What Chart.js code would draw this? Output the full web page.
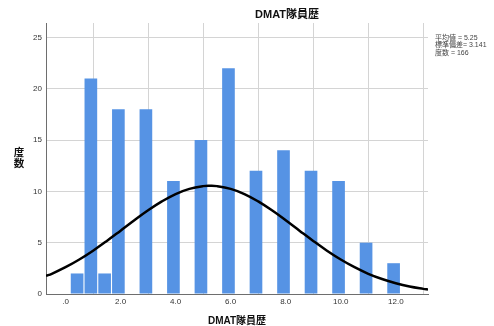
<!DOCTYPE html>
<html>
<head>
<meta charset="utf-8">
<script src="https://cdn.jsdelivr.net/npm/chart.js@4/dist/chart.umd.min.js"></script>
<style>
  html, body { margin: 0; padding: 0; background: #ffffff; }
  #wrap { width: 494px; height: 326px; }
</style>
</head>
<body>
<div id="wrap"><canvas id="c" width="494" height="326"></canvas></div>
<script>
// ---- data ----
const chartTitle = 'DMAT隊員歴';
const xAxisTitle = 'DMAT隊員歴';
const yAxisTitleChars = ['度', '数'];
const statLines = ['平均値 = 5.25', '標準偏差= 3.141', '度数 = 166'];

// histogram bins (midpoints as drawn) and counts
const binMidpoints = [0.42, 0.92, 1.42, 1.92, 2.92, 3.92, 4.92, 5.92, 6.92, 7.92, 8.92, 9.92, 10.92, 11.92];
const counts       = [2, 21, 2, 18, 18, 11, 15, 22, 12, 14, 12, 11, 5, 3];

// fitted normal curve, values read along the x axis
const curveX = [-0.71, -0.5, 0, 0.5, 1, 1.5, 2, 2.5, 3, 3.5, 4, 4.5, 5, 5.25, 5.5, 6, 6.5, 7, 7.5, 8, 8.5, 9, 9.5, 10, 10.5, 11, 11.5, 12, 12.5, 13, 13.17];
const curveY = [1.77, 1.97, 2.61, 3.36, 4.22, 5.17, 6.17, 7.18, 8.15, 9.02, 9.74, 10.24, 10.51, 10.54, 10.51, 10.24, 9.74, 9.02, 8.15, 7.18, 6.17, 5.17, 4.22, 3.36, 2.61, 1.97, 1.46, 1.05, 0.73, 0.50, 0.44];

// tick values and labels
const xTickValues = [0, 2, 4, 6, 8, 10, 12];
const xTickLabels = ['.0', '2.0', '4.0', '6.0', '8.0', '10.0', '12.0'];
const yTickValues = [0, 5, 10, 15, 20, 25];

const FONT = '"Liberation Sans", Arial, "Noto Sans CJK JP", sans-serif';

const textPlugin = {
  id: 'textPlugin',
  afterDraw(chart) {
    const ctx = chart.ctx;
    ctx.save();
    ctx.fillStyle = '#111';
    ctx.textBaseline = 'middle';
    ctx.textAlign = 'center';
    ctx.font = 'bold 11px ' + FONT;
    ctx.fillText(chartTitle, 287, 15);
    ctx.font = 'bold 10px ' + FONT;
    ctx.fillText(xAxisTitle, 237, 321);
    ctx.font = 'bold 10.5px ' + FONT;
    ctx.fillText(yAxisTitleChars[0], 19, 153);
    ctx.fillText(yAxisTitleChars[1], 19, 164.5);
    ctx.textAlign = 'left';
    ctx.fillStyle = '#444';
    ctx.font = '7px ' + FONT;
    statLines.forEach((s, i) => ctx.fillText(s, 435, 38 + i * 7.5));
    ctx.restore();
  }
};

new Chart(document.getElementById('c'), {
  type: 'bar',
  data: {
    datasets: [
      {
        type: 'line',
        data: curveX.map((x, i) => ({ x: x, y: curveY[i] })),
        borderColor: '#000000',
        borderWidth: 2.5,
        pointRadius: 0,
        tension: 0.4,
        fill: false,
        order: 0
      },
      {
        type: 'bar',
        data: binMidpoints.map((x, i) => ({ x: x, y: counts[i] })),
        backgroundColor: '#5693e4',
        borderWidth: 0,
        barPercentage: 0.92,
        categoryPercentage: 1.0,
        order: 1
      }
    ]
  },
  plugins: [textPlugin],
  options: {
    responsive: false,
    animation: false,
    devicePixelRatio: 1,
    layout: { padding: { left: 0, right: 66, top: 23, bottom: 0 } },
    plugins: { legend: { display: false }, tooltip: { enabled: false }, title: { display: false } },
    scales: {
      x: {
        type: 'linear',
        offset: false,
        min: -0.71,
        max: 13.17,
        afterFit: s => { s.height = 32; },
        afterBuildTicks: s => { s.ticks = xTickValues.map(v => ({ value: v })); },
        ticks: {
          includeBounds: false,
          padding: 3,
          color: '#333',
          font: { size: 8, family: FONT },
          maxRotation: 0,
          autoSkip: false,
          callback: v => { const i = xTickValues.indexOf(v); return i >= 0 ? xTickLabels[i] : ''; }
        },
        grid: { color: '#d4d4d4', lineWidth: 1, drawTicks: false },
        border: { color: '#6e6e6e', width: 1 }
      },
      y: {
        type: 'linear',
        min: 0,
        max: 26.4,
        afterFit: s => { s.width = 46; },
        afterBuildTicks: s => { s.ticks = yTickValues.map(v => ({ value: v })); },
        ticks: {
          includeBounds: false,
          padding: 4,
          color: '#333',
          font: { size: 8, family: FONT }
        },
        grid: { color: '#d4d4d4', lineWidth: 1, drawTicks: false },
        border: { color: '#6e6e6e', width: 1 }
      }
    }
  }
});
</script>
</body>
</html>
